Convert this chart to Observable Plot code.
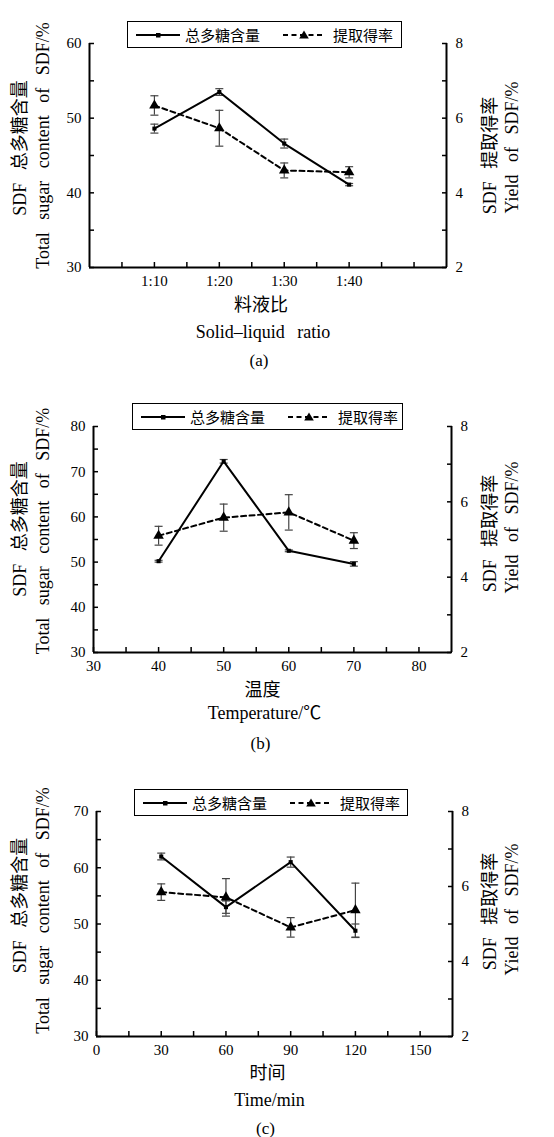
<!DOCTYPE html>
<html><head><meta charset="utf-8">
<script src="https://cdn.jsdelivr.net/npm/d3@7"></script>
<script src="https://cdn.jsdelivr.net/npm/@observablehq/plot@0.6"></script>
<style>
body{margin:0;background:#fff;}
#wrap{position:relative;width:554px;height:1137px;overflow:hidden;background:#fff;}
.panel{position:absolute;left:0;}
.legend{position:absolute;box-sizing:border-box;border:1.5px solid #000;background:#fff;height:27px;font-family:"Noto Sans CJK SC",sans-serif;font-size:15px;color:#000;}
.legend .t{position:absolute;top:50%;transform:translateY(-52%);line-height:1;white-space:nowrap;}
.legend svg{position:absolute;top:50%;transform:translateY(-50%);overflow:visible;}
</style></head><body><div id="wrap"></div>
<script>
// ---------- data ----------
const ratioX = [10, 20, 30, 40];
const ratioLabels = ["1:10", "1:20", "1:30", "1:40"];
const sugarA = [48.6, 53.5, 46.6, 41.1];
const sugarAErr = [0.6, 0.45, 0.6, 0.15];
const yieldA = [6.34, 5.73, 4.6, 4.55];
const yieldAErr = [0.26, 0.48, 0.2, 0.15];

const tempX = [40, 50, 60, 70];
const sugarB = [50.2, 72.3, 52.5, 49.6];
const sugarBErr = [0.2, 0.4, 0.2, 0.5];
const yieldB = [5.1, 5.58, 5.72, 4.97];
const yieldBErr = [0.25, 0.36, 0.47, 0.21];

const timeX = [30, 60, 90, 120];
const sugarC = [62.0, 53.0, 61.0, 48.8];
const sugarCErr = [0.6, 1.1, 0.9, 1.2];
const yieldC = [5.85, 5.71, 4.91, 5.37];
const yieldCErr = [0.22, 0.5, 0.26, 0.72];

// ticks
const xTicksA = [5, 10, 15, 20, 25, 30, 35, 40, 45, 50];
const xTicksB = [30, 35, 40, 45, 50, 55, 60, 65, 70, 75, 80];
const xLabelsB = [30, 40, 50, 60, 70, 80];
const xTicksC = [0, 15, 30, 45, 60, 75, 90, 105, 120, 135, 150];
const xLabelsC = [0, 30, 60, 90, 120, 150];
const yTicksA = [30, 35, 40, 45, 50, 55, 60];
const yLabelsA = [30, 40, 50, 60];
const yTicksB = [30, 35, 40, 45, 50, 55, 60, 65, 70, 75, 80];
const yLabelsB = [30, 40, 50, 60, 70, 80];
const yTicksC = [30, 35, 40, 45, 50, 55, 60, 65, 70];
const yLabelsC = [30, 40, 50, 60, 70];
const rightDomain = [2, 8];
const rightTicks = [2, 3, 4, 5, 6, 7, 8];
const rightLabels = [2, 4, 6, 8];

// texts
const legendLabels = ["总多糖含量", "提取得率"];
const leftTitle = ["SDF 总多糖含量", "Total sugar content of SDF/%"];
const rightTitle = ["SDF 提取得率", "Yield of SDF/%"];
const xTitlesA = ["料液比", "Solid–liquid ratio", "(a)"];
const xTitlesB = ["温度", "Temperature/℃", "(b)"];
const xTitlesC = ["时间", "Time/min", "(c)"];

// ---------- drawing ----------
const capSymbol = {draw(ctx, size) { const w = Math.sqrt(size / Math.PI); ctx.moveTo(-w, 0); ctx.lineTo(w, 0); }};
const FONT = '"Liberation Serif","Noto Sans CJK SC",serif';

function panel(cfg) {
  const [lo, hi] = cfg.yDomain;
  const toLeft = v => lo + (v - rightDomain[0]) / (rightDomain[1] - rightDomain[0]) * (hi - lo);
  const fromLeft = v => rightDomain[0] + (v - lo) / (hi - lo) * (rightDomain[1] - rightDomain[0]);
  const rows = cfg.x.map((x, i) => ({
    x,
    s: cfg.sugar[i], s1: cfg.sugar[i] - cfg.sugarErr[i], s2: cfg.sugar[i] + cfg.sugarErr[i],
    y: toLeft(cfg.yield[i]), y1: toLeft(cfg.yield[i] - cfg.yieldErr[i]), y2: toLeft(cfg.yield[i] + cfg.yieldErr[i])
  }));
  const caps = rows.flatMap(d => [{x: d.x, v: d.s1}, {x: d.x, v: d.s2}, {x: d.x, v: d.y1}, {x: d.x, v: d.y2}]);
  const t = cfg.t;
  const txt = (s, o) => Plot.text([s], {fontSize: 18, fill: "#000", textAnchor: "middle", lineAnchor: "middle", ...o});
  return Plot.plot({
    width: 554, height: cfg.height,
    marginTop: cfg.mt, marginBottom: cfg.mb, marginLeft: cfg.ml, marginRight: cfg.mr,
    x: {domain: cfg.xDomain},
    y: {domain: cfg.yDomain},
    style: {fontFamily: FONT, fontSize: "15px", color: "#000", background: "transparent", overflow: "visible", wordSpacing: "8px"},
    marks: [
      Plot.axisY(cfg.yTicks, {anchor: "left", label: null, tickSize: -5, tickPadding: 13, strokeWidth: 1.5, fontSize: 15,
        tickFormat: d => cfg.yLabels.includes(d) ? String(d) : ""}),
      Plot.axisY(rightTicks.map(toLeft), {anchor: "right", label: null, tickSize: -5, tickPadding: 14, strokeWidth: 1.5, fontSize: 15,
        tickFormat: d => { const r = Math.round(fromLeft(d)); return rightLabels.includes(r) ? String(r) : ""; }}),
      Plot.axisX(cfg.xTicks, {anchor: "bottom", label: null, tickSize: -5, tickPadding: 13, strokeWidth: 1.5, fontSize: 15,
        tickFormat: cfg.xFormat}),
      Plot.ruleY([lo], {strokeWidth: 2}),
      Plot.ruleX([cfg.xDomain[0]], {strokeWidth: 2}),
      Plot.ruleX([cfg.xDomain[1]], {strokeWidth: 2}),
      Plot.ruleX(rows, {x: "x", y1: "s1", y2: "s2", stroke: "#444", strokeWidth: 1.2}),
      Plot.ruleX(rows, {x: "x", y1: "y1", y2: "y2", stroke: "#444", strokeWidth: 1.2}),
      Plot.dot(caps, {x: "x", y: "v", symbol: capSymbol, r: 4, stroke: "#444", strokeWidth: 1.2, fill: "none"}),
      Plot.line(rows, {x: "x", y: "s", stroke: "#000", strokeWidth: 2}),
      Plot.line(rows, {x: "x", y: "y", stroke: "#000", strokeWidth: 2, strokeDasharray: "5,3.5"}),
      Plot.dot(rows, {x: "x", y: "s", symbol: "square", r: 2.3, fill: "#000", stroke: "none"}),
      Plot.dot(rows, {x: "x", y: "y", symbol: "triangle", r: 3.9, fill: "#000", stroke: "none"}),
      txt(leftTitle[0], {frameAnchor: "left", rotate: -90, dx: t.L1[0], dy: t.L1[1]}),
      txt(leftTitle[1], {frameAnchor: "left", rotate: -90, dx: t.L2[0], dy: t.L2[1]}),
      txt(rightTitle[0], {frameAnchor: "right", rotate: -90, dx: t.R1[0], dy: t.R1[1]}),
      txt(rightTitle[1], {frameAnchor: "right", rotate: -90, dx: t.R2[0], dy: t.R2[1]}),
      txt(cfg.xTitles[0], {frameAnchor: "bottom", dx: t.B[0], dy: t.B[1]}),
      txt(cfg.xTitles[1], {frameAnchor: "bottom", dx: t.B[0] + 2, dy: t.B[2]}),
      txt(cfg.xTitles[2], {frameAnchor: "bottom", dx: t.B[0] - 2, dy: t.B[3], fontSize: 17})
    ]
  });
}

function legend(top, left, width) {
  const div = document.createElement("div");
  div.className = "legend";
  div.style.top = top + "px"; div.style.left = left + "px"; div.style.width = width + "px";
  div.innerHTML =
    `<svg width="44" height="10" style="left:8px"><line x1="0" y1="5" x2="44" y2="5" stroke="#000" stroke-width="2"/><rect x="20" y="3" width="4.5" height="4.5" fill="#000"/></svg>` +
    `<span class="t" style="left:57px">${legendLabels[0]}</span>` +
    `<svg width="42" height="10" style="left:155px"><line x1="0" y1="5" x2="42" y2="5" stroke="#000" stroke-width="2" stroke-dasharray="5,3.5"/><path d="M21,0.5 L25.8,8.6 L16.2,8.6 Z" fill="#000"/></svg>` +
    `<span class="t" style="left:205px">${legendLabels[1]}</span>`;
  return div;
}

const wrap = document.getElementById("wrap");
const panels = [
  {top: 0, height: 375, mt: 43, mb: 108, ml: 89, mr: 108,
   x: ratioX, sugar: sugarA, sugarErr: sugarAErr, yield: yieldA, yieldErr: yieldAErr,
   xDomain: [0, 55], xTicks: xTicksA, xFormat: d => { const i = ratioX.indexOf(d); return i >= 0 ? ratioLabels[i] : ""; },
   yDomain: [30, 60], yTicks: yTicksA, yLabels: yLabelsA, xTitles: xTitlesA,
   t: {L1: [-69, -7.5], L2: [-46, -10], R1: [44, 0], R2: [66, -8], B: [-7, 38, 65, 93]},
   legend: [21, 127, 275]},
  {top: 375, height: 380, mt: 51, mb: 103, ml: 93, mr: 103,
   x: tempX, sugar: sugarB, sugarErr: sugarBErr, yield: yieldB, yieldErr: yieldBErr,
   xDomain: [30, 85], xTicks: xTicksB, xFormat: d => xLabelsB.includes(d) ? String(d) : "",
   yDomain: [30, 80], yTicks: yTicksB, yLabels: yLabelsB, xTitles: xTitlesB,
   t: {L1: [-73, -10.5], L2: [-50, -8.5], R1: [39, -6], R2: [61, -12], B: [-10, 38, 61, 91]},
   legend: [403, 132, 271]},
  {top: 755, height: 382, mt: 56, mb: 101, ml: 96, mr: 102,
   x: timeX, sugar: sugarC, sugarErr: sugarCErr, yield: yieldC, yieldErr: yieldCErr,
   xDomain: [0, 165], xTicks: xTicksC, xFormat: d => xLabelsC.includes(d) ? String(d) : "",
   yDomain: [30, 70], yTicks: yTicksC, yLabels: yLabelsC, xTitles: xTitlesC,
   t: {L1: [-76, -18.5], L2: [-53, -13.5], R1: [38, -12.5], R2: [60, -14.5], B: [-7, 37, 64, 92]},
   legend: [789, 134, 274]}
];
for (const p of panels) {
  const svg = panel(p);
  svg.classList.add("panel");
  svg.style.position = "absolute";
  svg.style.top = p.top + "px";
  svg.style.left = "0px";
  wrap.appendChild(svg);
  wrap.appendChild(legend(...p.legend));
}
</script>
</body></html>
